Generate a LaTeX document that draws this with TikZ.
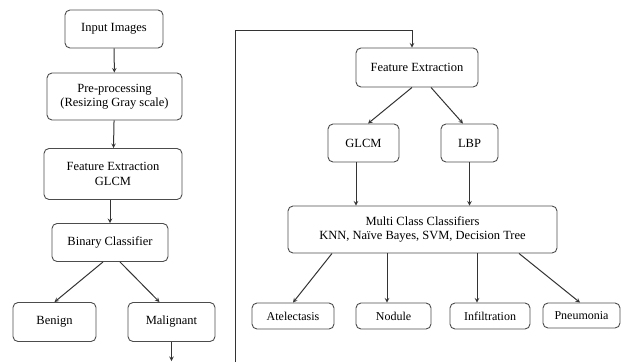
\documentclass[tikz,border=0pt]{standalone}
\usepackage{fontspec}
\newfontfamily\figfont{Liberation Serif}
\usepackage{tikz}
\usetikzlibrary{arrows, positioning, calc}

\begin{document}
\begin{tikzpicture}[
  x=1pt, y=-1pt,
  block/.style={draw=black!70, rounded corners=5pt, line width=0.9pt, align=center, inner sep=0pt, font=\figfont\fontsize{12.5}{14.5}\selectfont},
  leaf/.style={block, minimum height=26pt, font=\figfont\fontsize{12}{14}\selectfont},
  arrow/.style={->, draw=black!80, line width=1pt, >=stealth}
]
\useasboundingbox (0,0) rectangle (621,362);

% left pipeline
\node[block, minimum width=98pt, minimum height=38pt] (input) at (114, 29) {Input Images};
\node[block, minimum width=135pt, minimum height=47pt] (prep) at (114.5, 96.5) {Pre-processing\\(Resizing Gray scale)};
\node[block, minimum width=138pt, minimum height=51pt] (featl) at (113, 174) {Feature Extraction\\GLCM};
\node[block, minimum width=116pt, minimum height=38pt] (binary) at (110, 242.5) {Binary Classifier};
\node[block, minimum width=83pt, minimum height=39pt] (benign) at (54.5, 322) {Benign};
\node[block, minimum width=87pt, minimum height=39pt] (malig) at (171.5, 322) {Malignant};

% right pipeline
\node[block, minimum width=122pt, minimum height=39pt] (featr) at (417, 67.5) {Feature Extraction};
\node[block, minimum width=71pt, minimum height=38pt] (glcm) at (363.5, 143) {GLCM};
\node[block, minimum width=57pt, minimum height=38pt] (lbp) at (469.5, 143) {LBP};
\node[block, minimum width=269pt, minimum height=47pt] (multi) at (422.5, 229.5) {Multi Class Classifiers\\KNN, Naïve Bayes, SVM, Decision Tree};
\node[leaf, minimum width=82pt] (atel) at (293, 316) {Atelectasis};
\node[leaf, minimum width=75pt] (nod) at (393.5, 316) {Nodule};
\node[leaf, minimum width=80pt] (infil) at (490, 316) {Infiltration};
\node[leaf, minimum width=77pt, minimum height=25pt] (pneu) at (581.5, 315.5) {Pneumonia};

\coordinate (out) at (171.5, 361);
\coordinate (loopstart) at (235, 362);
\coordinate (looptop) at (235, 30);

\draw[arrow] (input) -- (prep);
\draw[arrow] (prep) -- (featl);
\draw[arrow] (featl.south -| binary) -- (binary);
\draw[arrow] ([xshift=-7]binary.south) -- (benign.north);
\draw[arrow] ([xshift=10]binary.south) -- ([xshift=-12]malig.north);
\draw[arrow] (malig.south) -- (out);

\draw[arrow] (loopstart) -- (looptop) -| ([xshift=-5]featr.north);
\draw[arrow] ([xshift=-5]featr.south) -- ([xshift=4.5]glcm.north);
\draw[arrow] ([xshift=14]featr.south) -- ([xshift=-6.5]lbp.north);
\draw[arrow] ([xshift=-7.5]glcm.south) -- ([xshift=-7.5]glcm.south |- multi.north);
\draw[arrow] (lbp.south) -- (lbp.south |- multi.north);
\draw[arrow] ([xshift=-90.5]multi.south) -- (atel.north);
\draw[arrow] ([xshift=-35.5]multi.south) -- ([xshift=-35.5]multi.south |- nod.north);
\draw[arrow] ([xshift=54.5]multi.south) -- ([xshift=54.5]multi.south |- infil.north);
\draw[arrow] ([xshift=96.5]multi.south) -- ([xshift=-1.5]pneu.north);

\end{tikzpicture}
\end{document}
